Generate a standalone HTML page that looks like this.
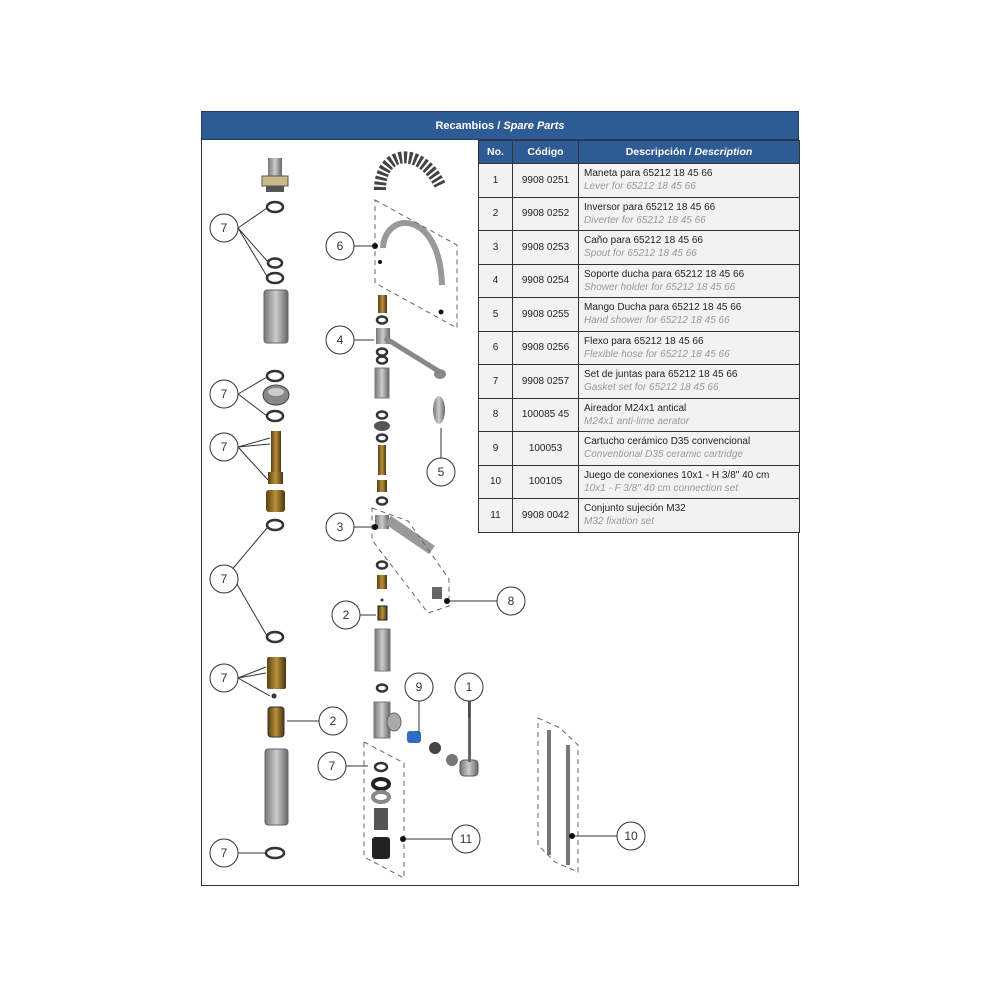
<!DOCTYPE html>
<html><head><meta charset="utf-8">
<style>
html,body{margin:0;padding:0;background:#fff;}
body{width:1000px;height:1000px;position:relative;font-family:"Liberation Sans",sans-serif;}
#frame{position:absolute;left:201px;top:111px;width:596px;height:774px;border:1px solid #333;border-top:none;}
#hdr{position:absolute;left:201px;top:111px;width:598px;height:29px;background:#2f5b94;color:#fff;font-size:11px;font-weight:bold;text-align:center;line-height:29px;border:1px solid #1d3d66;box-sizing:border-box;}
table{position:absolute;left:478px;top:140px;border-collapse:collapse;font-size:10px;table-layout:fixed;width:321px;}
td,th{border:1px solid #333;padding:0;overflow:hidden;white-space:nowrap;}
th{background:#2f5b94;color:#fff;height:22px;font-size:10.5px;}
td{height:32.5px;background:#f2f2f2;color:#222;}
td.n{text-align:center;}
td.c{text-align:center;}
td.d{padding-left:5px;line-height:13px;box-sizing:border-box;}
td.d i{color:#999;}
svg{position:absolute;left:0;top:0;}
</style></head><body>
<div id="frame"></div>
<div id="hdr">Recambios / <i>Spare Parts</i></div>
<table>
<colgroup><col style="width:34px"><col style="width:66px"><col style="width:221px"></colgroup>
<tr><th>No.</th><th>Código</th><th>Descripción / <i>Description</i></th></tr>
<tr><td class="n">1</td><td class="c">9908 0251</td><td class="d">Maneta para 65212 18 45 66<br><i>Lever for 65212 18 45 66</i></td></tr>
<tr><td class="n">2</td><td class="c">9908 0252</td><td class="d">Inversor para 65212 18 45 66<br><i>Diverter for 65212 18 45 66</i></td></tr>
<tr><td class="n">3</td><td class="c">9908 0253</td><td class="d">Caño para 65212 18 45 66<br><i>Spout for 65212 18 45 66</i></td></tr>
<tr><td class="n">4</td><td class="c">9908 0254</td><td class="d">Soporte ducha para 65212 18 45 66<br><i>Shower holder for 65212 18 45 66</i></td></tr>
<tr><td class="n">5</td><td class="c">9908 0255</td><td class="d">Mango Ducha para 65212 18 45 66<br><i>Hand shower for 65212 18 45 66</i></td></tr>
<tr><td class="n">6</td><td class="c">9908 0256</td><td class="d">Flexo para 65212 18 45 66<br><i>Flexible hose for 65212 18 45 66</i></td></tr>
<tr><td class="n">7</td><td class="c">9908 0257</td><td class="d">Set de juntas para 65212 18 45 66<br><i>Gasket set for 65212 18 45 66</i></td></tr>
<tr><td class="n">8</td><td class="c">100085 45</td><td class="d">Aireador M24x1 antical<br><i>M24x1 anti-lime aerator</i></td></tr>
<tr><td class="n">9</td><td class="c">100053</td><td class="d">Cartucho cerámico D35 convencional<br><i>Conventional D35 ceramic cartridge</i></td></tr>
<tr><td class="n">10</td><td class="c">100105</td><td class="d">Juego de conexiones 10x1 - H 3/8" 40 cm<br><i>10x1 - F 3/8" 40 cm connection set</i></td></tr>
<tr><td class="n">11</td><td class="c">9908 0042</td><td class="d">Conjunto sujeción M32<br><i>M32 fixation set</i></td></tr>
</table>
<svg width="1000" height="1000" viewBox="0 0 1000 1000" font-family="Liberation Sans, sans-serif" font-size="12" text-anchor="middle">
<defs>
<linearGradient id="g" x1="0" x2="1"><stop offset="0" stop-color="#777"/><stop offset="0.5" stop-color="#ccc"/><stop offset="1" stop-color="#666"/></linearGradient>
<linearGradient id="b" x1="0" x2="1"><stop offset="0" stop-color="#5a4010"/><stop offset="0.5" stop-color="#b8913a"/><stop offset="1" stop-color="#4a3510"/></linearGradient>
</defs>
<g fill="none" stroke="#333" stroke-width="2.5">
<ellipse cx="275" cy="207" rx="8" ry="5"/><ellipse cx="275" cy="263" rx="7" ry="4.5"/><ellipse cx="275" cy="278" rx="8" ry="5"/>
<ellipse cx="275" cy="376" rx="8" ry="5"/><ellipse cx="275" cy="416" rx="8" ry="5"/>
<ellipse cx="275" cy="525" rx="8" ry="5"/><ellipse cx="275" cy="637" rx="8" ry="5"/><ellipse cx="275" cy="853" rx="9" ry="5"/>
<ellipse cx="382" cy="320" rx="5" ry="3.5"/><ellipse cx="382" cy="352" rx="5" ry="3.5"/><ellipse cx="382" cy="360" rx="5" ry="3.5"/>
<ellipse cx="382" cy="415" rx="5" ry="3.5"/><ellipse cx="382" cy="438" rx="5" ry="3.5"/><ellipse cx="382" cy="501" rx="5" ry="3.5"/>
<ellipse cx="382" cy="565" rx="5" ry="3.5"/><ellipse cx="382" cy="688" rx="5" ry="3.5"/><ellipse cx="381" cy="767" rx="6" ry="4"/>
</g>
<rect x="268" y="158" width="14" height="18" fill="url(#g)"/><rect x="262" y="176" width="26" height="10" fill="#c9b98a" stroke="#555"/><rect x="266" y="186" width="18" height="6" fill="#555"/>
<rect x="264" y="290" width="24" height="53" rx="3" fill="url(#g)" stroke="#666"/>
<ellipse cx="276" cy="395" rx="13" ry="10" fill="#888" stroke="#444"/><ellipse cx="276" cy="392" rx="8" ry="4" fill="#ccc"/>
<rect x="271" y="431" width="10" height="45" fill="url(#b)"/>
<rect x="268" y="472" width="15" height="12" fill="url(#b)"/>
<rect x="266" y="490" width="19" height="22" rx="3" fill="url(#b)"/>
<rect x="267" y="657" width="19" height="32" rx="2" fill="url(#b)"/><circle cx="274" cy="696" r="2.5" fill="#333"/>
<rect x="268" y="707" width="16" height="30" rx="3" fill="url(#b)" stroke="#333"/>
<rect x="265" y="749" width="23" height="76" rx="3" fill="url(#g)" stroke="#666"/>
<path d="M380 190 C380 150 420 145 440 185" stroke="#444" stroke-width="12" fill="none" stroke-dasharray="3 2"/>
<path d="M383 248 C385 210 440 210 442 285" stroke="#999" stroke-width="6" fill="none"/>
<rect x="378" y="295" width="9" height="18" fill="url(#b)"/>
<rect x="376" y="328" width="14" height="16" fill="url(#g)"/><path d="M385 338 L440 372" stroke="#888" stroke-width="5"/><ellipse cx="440" cy="374" rx="6" ry="5" fill="#888"/>
<rect x="375" y="368" width="14" height="30" fill="url(#g)" stroke="#777"/>
<ellipse cx="382" cy="426" rx="8" ry="5" fill="#555"/>
<rect x="378" y="445" width="8" height="30" fill="url(#b)"/><rect x="377" y="480" width="10" height="12" fill="url(#b)"/>
<rect x="375" y="515" width="14" height="14" fill="url(#g)"/><path d="M388 520 L432 550" stroke="#999" stroke-width="10"/>
<rect x="432" y="587" width="10" height="12" fill="#666"/>
<rect x="377" y="575" width="10" height="14" fill="url(#b)"/><circle cx="382" cy="600" r="1.5" fill="#333"/><rect x="378" y="606" width="9" height="14" fill="url(#b)" stroke="#222"/>
<rect x="375" y="629" width="15" height="42" fill="url(#g)" stroke="#777"/>
<rect x="374" y="702" width="16" height="36" fill="url(#g)" stroke="#777"/><ellipse cx="394" cy="722" rx="7" ry="9" fill="#aaa" stroke="#666"/>
<rect x="407" y="731" width="14" height="12" rx="3" fill="#2b6ec4"/>
<ellipse cx="435" cy="748" rx="6" ry="6" fill="#444"/><ellipse cx="452" cy="760" rx="6" ry="6" fill="#777"/>
<rect x="460" y="760" width="18" height="16" rx="4" fill="url(#g)" stroke="#555"/><rect x="468" y="700" width="3" height="62" fill="#666"/>
<ellipse cx="439" cy="410" rx="6" ry="14" fill="url(#g)"/>
<ellipse cx="381" cy="784" rx="8" ry="5" fill="none" stroke="#222" stroke-width="4"/>
<ellipse cx="381" cy="797" rx="8" ry="5" fill="none" stroke="#888" stroke-width="4"/>
<rect x="374" y="808" width="14" height="22" fill="#555"/>
<rect x="372" y="837" width="18" height="22" rx="3" fill="#222"/>
<rect x="547" y="730" width="4" height="125" fill="#777"/><rect x="566" y="745" width="4" height="120" fill="#777"/>
<g fill="none" stroke="#666" stroke-width="1" stroke-dasharray="5 4">
<path d="M375 200 L457 245 L457 328 L375 283 Z"/>
<path d="M372 508 L408 521 L449 579 L449 606 L428 613 L372 540 Z"/>
<path d="M364 742 L404 763 L404 878 L364 857 Z"/>
<path d="M538 718 L560 728 L578 745 L578 872 L555 862 L538 845 Z"/>
</g>
<g stroke="#333" stroke-width="1" fill="none">
<path d="M238 228 L267 208 M238 228 L268 262 M238 228 L268 278"/>
<path d="M238 394 L267 377 M238 394 L267 416"/>
<path d="M238 447 L270 438 M238 447 L270 444 M238 447 L268 480"/>
<path d="M230 572 L267 528 M230 572 L267 636"/>
<path d="M238 678 L266 667 M238 678 L266 673 M238 678 L270 696"/>
<path d="M319 721 L287 721"/><path d="M238 853 L265 853"/>
<path d="M354 246 L375 246"/><path d="M354 340 L374 340"/><path d="M441 458 L441 428"/>
<path d="M354 527 L373 527"/><path d="M359 615 L376 615"/><path d="M497 601 L447 601"/>
<path d="M419 701 L419 733"/><path d="M469 700 L469 718"/>
<path d="M346 766 L368 766"/><path d="M452 839 L403 839"/><path d="M617 836 L572 836"/>
</g>
<g fill="#111"><circle cx="375" cy="246" r="3"/><circle cx="380" cy="262" r="2"/><circle cx="441" cy="312" r="2.5"/><circle cx="375" cy="527" r="3"/><circle cx="447" cy="601" r="3"/><circle cx="403" cy="839" r="3"/><circle cx="572" cy="836" r="3"/></g>
<g fill="#fff" stroke="#333" stroke-width="1">
<circle cx="224" cy="228" r="14"/><circle cx="224" cy="394" r="14"/><circle cx="224" cy="447" r="14"/><circle cx="224" cy="579" r="14"/>
<circle cx="224" cy="678" r="14"/><circle cx="333" cy="721" r="14"/><circle cx="224" cy="853" r="14"/>
<circle cx="340" cy="246" r="14"/><circle cx="340" cy="340" r="14"/><circle cx="441" cy="472" r="14"/><circle cx="340" cy="527" r="14"/>
<circle cx="346" cy="615" r="14"/><circle cx="511" cy="601" r="14"/><circle cx="419" cy="687" r="14"/><circle cx="469" cy="687" r="14"/>
<circle cx="332" cy="766" r="14"/><circle cx="466" cy="839" r="14"/><circle cx="631" cy="836" r="14"/>
</g>
<g fill="#333" font-size="12">
<text x="224" y="232">7</text><text x="224" y="398">7</text><text x="224" y="451">7</text><text x="224" y="583">7</text>
<text x="224" y="682">7</text><text x="333" y="725">2</text><text x="224" y="857">7</text>
<text x="340" y="250">6</text><text x="340" y="344">4</text><text x="441" y="476">5</text><text x="340" y="531">3</text>
<text x="346" y="619">2</text><text x="511" y="605">8</text><text x="419" y="691">9</text><text x="469" y="691">1</text>
<text x="332" y="770">7</text><text x="466" y="843">11</text><text x="631" y="840">10</text>
</g>
</svg>
</body></html>
